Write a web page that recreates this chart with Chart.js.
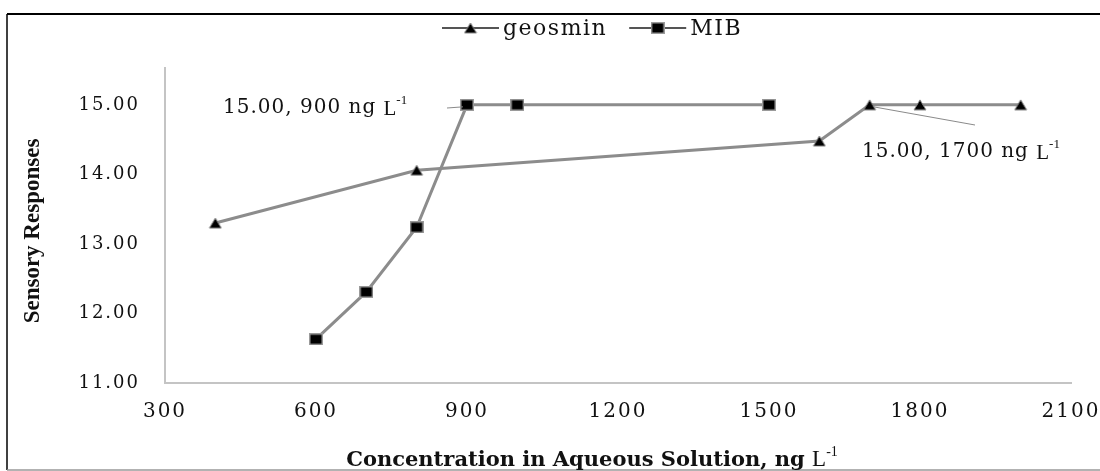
<!DOCTYPE html>
<html><head><meta charset="utf-8">
<script src="https://cdn.jsdelivr.net/npm/chart.js@4.4.1/dist/chart.umd.min.js"></script>
<style>html,body{margin:0;padding:0;background:#fff}#wrap{width:1100px;height:471px;position:relative}</style>
</head><body><div id="wrap"><canvas id="c"></canvas></div>
<script>
// ---- data ----
const seriesNames = ['geosmin', 'MIB'];
const geosminX = [400, 800, 1600, 1700, 1800, 2000];
const geosminY = [13.30, 14.06, 14.48, 15.00, 15.00, 15.00];
const mibX = [600, 700, 800, 900, 1000, 1500];
const mibY = [11.63, 12.31, 13.24, 15.00, 15.00, 15.00];
const xTicks = [300, 600, 900, 1200, 1500, 1800, 2100];
const yTicks = [11, 12, 13, 14, 15];
const xTitle = 'Concentration in Aqueous Solution, ng ';
const yTitle = 'Sensory Responses';
const noteX = [900, 1700];
const noteY = [15, 15];
const noteText = ['15.00, 900 ng ', '15.00, 1700 ng '];

// ---- marker images ----
function makeTri(){
  const c=document.createElement('canvas'); c.width=14; c.height=12;
  const g=c.getContext('2d');
  g.beginPath(); g.moveTo(7,1); g.lineTo(13,11); g.lineTo(1,11); g.closePath();
  g.fillStyle='#000'; g.fill(); g.strokeStyle='#8a8a8a'; g.lineWidth=1; g.stroke();
  return c;
}
function makeRect(){
  const c=document.createElement('canvas'); c.width=14; c.height=12;
  const g=c.getContext('2d');
  g.fillStyle='#9a9a9a'; g.fillRect(0,0,14,12);
  g.fillStyle='#000'; g.fillRect(1.5,1.5,11,9);
  return c;
}
const triImg = makeTri(), rectImg = makeRect();
const lineColor = '#8c8c8c';
const serif = "'DejaVu Serif', serif";

function pts(xs, ys){ return xs.map((x,i)=>({x:x, y:ys[i]})); }

const deco = {
  id:'deco',
  beforeDraw(chart){
    const ctx=chart.ctx;
    ctx.save(); ctx.fillStyle='#fff'; ctx.fillRect(0,0,chart.width,chart.height); ctx.restore();
    ctx.letterSpacing='2px';
  },
  afterDraw(chart){
    const ctx=chart.ctx, xs=chart.scales.x, ys=chart.scales.y;
    ctx.save();
    ctx.letterSpacing='0px';
    // outer frame
    ctx.strokeStyle='#000'; ctx.lineWidth=2;
    ctx.beginPath(); ctx.moveTo(7,14); ctx.lineTo(1100,14); ctx.stroke();
    ctx.lineWidth=1.5;
    ctx.beginPath(); ctx.moveTo(7,14); ctx.lineTo(7,470); ctx.stroke();
    ctx.strokeStyle='#999'; ctx.lineWidth=1.5;
    ctx.beginPath(); ctx.moveTo(7,470); ctx.lineTo(1100,470); ctx.stroke();

    // legend
    ctx.fillStyle='#111'; ctx.textBaseline='middle'; ctx.textAlign='left';
    ctx.font="22px "+serif; ctx.letterSpacing='1.5px';
    const imgs=[triImg, rectImg];
    let lx=442; const ly=28;
    chart.data.datasets.forEach((ds,i)=>{
      ctx.strokeStyle='#555'; ctx.lineWidth=2;
      ctx.beginPath(); ctx.moveTo(lx,ly); ctx.lineTo(lx+57,ly); ctx.stroke();
      const im=imgs[i]; ctx.drawImage(im, lx+28.5-im.width/2, ly-im.height/2);
      ctx.fillText(ds.label, lx+61, ly+1);
      lx += 61 + ctx.measureText(ds.label).width + 22;
    });

    // y title
    ctx.letterSpacing='0px';
    ctx.save();
    ctx.translate(33,231); ctx.rotate(-Math.PI/2);
    ctx.font="bold 23px 'Liberation Serif', serif"; ctx.textAlign='center'; ctx.textBaseline='middle';
    ctx.fillStyle='#111'; ctx.fillText(yTitle,0,0);
    ctx.restore();

    // x title
    ctx.textBaseline='alphabetic';
    ctx.font="bold 21px "+serif;
    const w1=ctx.measureText(xTitle).width;
    ctx.font="23px 'Liberation Serif', serif";
    const w2=ctx.measureText('L').width;
    ctx.font="14px 'Liberation Serif', serif";
    const w3=ctx.measureText('-1').width;
    let tx=592-(w1+w2+w3)/2, tyb=466;
    ctx.font="bold 21px "+serif; ctx.fillText(xTitle,tx,tyb); tx+=w1;
    ctx.font="23px 'Liberation Serif', serif"; ctx.fillText('L',tx,tyb); tx+=w2;
    ctx.font="14px 'Liberation Serif', serif"; ctx.fillText('-1',tx,tyb-10);

    // annotations
    const noteDefs=[{tx:223, ty:108, lx1:447, ly1:108}, {tx:862, ty:152, lx1:975, ly1:125}];
    noteX.forEach((nx,i)=>{
      const px=xs.getPixelForValue(nx), py=ys.getPixelForValue(noteY[i]);
      const d=noteDefs[i];
      ctx.strokeStyle='#8a8a8a'; ctx.lineWidth=1;
      ctx.beginPath(); ctx.moveTo(d.lx1,d.ly1); ctx.lineTo(px-(i===0?4:-4),py+2); ctx.stroke();
      ctx.fillStyle='#111'; ctx.textBaseline='middle';
      ctx.font="20px "+serif; ctx.letterSpacing='1px';
      ctx.fillText(noteText[i], d.tx, d.ty);
      let ex=d.tx+ctx.measureText(noteText[i]).width;
      ctx.letterSpacing='0px';
      ctx.font="21px 'Liberation Serif', serif"; ctx.fillText('L', ex, d.ty+1);
      ex+=ctx.measureText('L').width;
      ctx.font="13px 'Liberation Serif', serif"; ctx.fillText('-1', ex, d.ty-7);
    });
    ctx.restore();
  }
};

new Chart(document.getElementById('c'), {
  type:'line',
  data:{ datasets:[
    { label:seriesNames[0], data:pts(geosminX, geosminY), borderColor:lineColor, borderWidth:3,
      pointStyle:triImg, pointRadius:6, tension:0, fill:false },
    { label:seriesNames[1], data:pts(mibX, mibY), borderColor:lineColor, borderWidth:3,
      pointStyle:rectImg, pointRadius:6, tension:0, fill:false }
  ]},
  options:{
    responsive:true, maintainAspectRatio:false, animation:false,
    layout:{padding:{left:0, top:68, right:29, bottom:0}},
    plugins:{legend:{display:false}, tooltip:{enabled:false}},
    scales:{
      x:{ type:'linear', min:xTicks[0], max:xTicks[xTicks.length-1],
        afterFit(s){ s.height=88; s.paddingLeft=0; s.paddingRight=0; },
        afterBuildTicks(s){ s.ticks=xTicks.map(v=>({value:v})); },
        grid:{display:false, drawTicks:false},
        border:{display:true, color:'#c4c4c4', width:2},
        ticks:{ color:'#111', font:{family:serif, size:20}, padding:17, maxRotation:0, autoSkip:false,
          callback:v=>String(v) } },
      y:{ type:'linear', min:yTicks[0], max:15.53,
        afterFit(s){ s.width=165; s.paddingTop=0; s.paddingBottom=0; },
        afterBuildTicks(s){ s.ticks=yTicks.map(v=>({value:v})); },
        grid:{display:false, drawTicks:false},
        border:{display:true, color:'#c4c4c4', width:2},
        ticks:{ color:'#111', font:{family:serif, size:18}, padding:25, autoSkip:false,
          callback:v=>Number(v).toFixed(2) } }
    }
  },
  plugins:[deco]
});
</script></body></html>
